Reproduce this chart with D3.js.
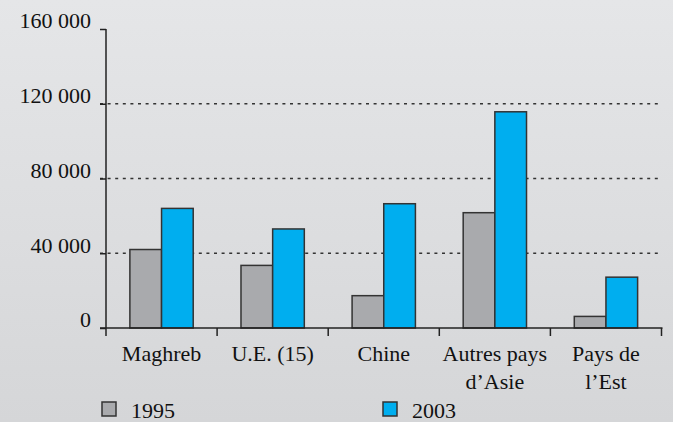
<!DOCTYPE html>
<html>
<head>
<meta charset="utf-8">
<script src="https://cdn.jsdelivr.net/npm/d3@7"></script>
</head>
<body style="margin:0">
<script>
var categories = ["Maghreb", "U.E. (15)", "Chine", "Autres pays\nd\u2019Asie", "Pays de\nl\u2019Est"];
var series = ["1995", "2003"];
var values1995 = [42000, 33500, 17300, 61700, 6200];
var values2003 = [64000, 53000, 66500, 115700, 27200];
var yTicks = [0, 40000, 80000, 120000, 160000];
var colors = ["#a9aaad", "#00aeef"];

var w = 673, h = 422;
var serif = "'Liberation Serif'";

var svg = d3.select("body").append("svg")
  .attr("width", w)
  .attr("height", h)
  .style("display", "block");

// background gradient
var grad = svg.append("defs").append("linearGradient")
  .attr("id", "bg")
  .attr("x1", 0).attr("y1", 0).attr("x2", 0).attr("y2", 1);
grad.append("stop").attr("offset", "0%").attr("stop-color", "#e5e6e8");
grad.append("stop").attr("offset", "100%").attr("stop-color", "#d5d6d8");
svg.append("rect").attr("width", w).attr("height", h).attr("fill", "url(#bg)");

var y = d3.scaleLinear().domain([0, 160000]).range([328, 29]);

var x0 = d3.scaleBand()
  .domain(categories)
  .range([106, 661.5])
  .paddingInner(0.43)
  .paddingOuter(0.215);

var x1 = d3.scaleBand()
  .domain(series)
  .range([0, x0.bandwidth()]);

// dotted gridlines
svg.append("g")
  .selectAll("line")
  .data(yTicks.filter(function(d){ return d > 0 && d < 160000; }))
  .enter().append("line")
    .attr("x1", 100)
    .attr("x2", 661)
    .attr("y1", function(d){ return y(d); })
    .attr("y2", function(d){ return y(d); })
    .attr("stroke", "#333")
    .attr("stroke-width", 1.5)
    .attr("stroke-dasharray", "3,4.6");

// bars
var rows = categories.map(function(c, i){
  return { cat: c, vals: [values1995[i], values2003[i]] };
});

var groups = svg.append("g")
  .selectAll("g")
  .data(rows)
  .enter().append("g")
    .attr("transform", function(d){ return "translate(" + x0(d.cat) + ",0)"; });

groups.selectAll("rect")
  .data(function(d){ return d.vals.map(function(v, j){ return { s: series[j], v: v, j: j }; }); })
  .enter().append("rect")
    .attr("x", function(d){ return x1(d.s); })
    .attr("y", function(d){ return y(d.v); })
    .attr("width", x1.bandwidth())
    .attr("height", function(d){ return y(0) - y(d.v); })
    .attr("fill", function(d){ return colors[d.j]; })
    .attr("stroke", "#333")
    .attr("stroke-width", 1.5);

// y axis
var fmt = function(d){ return d3.format(",")(d).replace(/,/g, " "); };
var yAxis = svg.append("g")
  .attr("transform", "translate(106,0)")
  .call(d3.axisLeft(y).tickValues(yTicks).tickSize(6).tickPadding(9).tickFormat(fmt));
yAxis.attr("font-family", null).attr("font-size", null);
yAxis.select(".domain").remove();
yAxis.selectAll("line").attr("stroke", "#222").attr("stroke-width", 1.5);
yAxis.selectAll("text")
  .style("font-family", serif)
  .attr("font-size", 22)
  .attr("fill", "#111")
  .attr("dy", "-0.05em");

svg.append("line")
  .attr("x1", 106).attr("x2", 106)
  .attr("y1", y(160000)).attr("y2", 336)
  .attr("stroke", "#222").attr("stroke-width", 1.5);

// x axis
svg.append("line")
  .attr("x1", 100).attr("x2", 662.5)
  .attr("y1", y(0)).attr("y2", y(0))
  .attr("stroke", "#222").attr("stroke-width", 1.5);

var step = x0.step();
svg.append("g")
  .selectAll("line")
  .data(categories)
  .enter().append("line")
    .attr("x1", function(d){ return x0(d) + x0.bandwidth() / 2 + step / 2; })
    .attr("x2", function(d){ return x0(d) + x0.bandwidth() / 2 + step / 2; })
    .attr("y1", y(0))
    .attr("y2", 336)
    .attr("stroke", "#222")
    .attr("stroke-width", 1.5);

var labels = svg.append("g")
  .selectAll("text")
  .data(categories)
  .enter().append("text")
    .attr("text-anchor", "middle")
    .style("font-family", serif)
    .attr("font-size", 22)
    .attr("fill", "#111")
    .attr("transform", function(d){ return "translate(" + (x0(d) + x0.bandwidth() / 2) + ",361)"; });

labels.selectAll("tspan")
  .data(function(d){ return d.split("\n"); })
  .enter().append("tspan")
    .attr("x", 0)
    .attr("y", function(d, i){ return i * 28; })
    .text(function(d){ return d; });

// legend
var legendX = [102, 383];
var legend = svg.append("g")
  .selectAll("g")
  .data(series)
  .enter().append("g")
    .attr("transform", function(d, i){ return "translate(" + legendX[i] + ",402)"; });

legend.append("rect")
  .attr("width", 14)
  .attr("height", 14)
  .attr("fill", function(d, i){ return colors[i]; })
  .attr("stroke", "#333")
  .attr("stroke-width", 1.5);

legend.append("text")
  .attr("x", 29)
  .attr("y", 16)
  .style("font-family", serif)
  .attr("font-size", 22)
  .attr("fill", "#111")
  .text(function(d){ return d; });
</script>
</body>
</html>
